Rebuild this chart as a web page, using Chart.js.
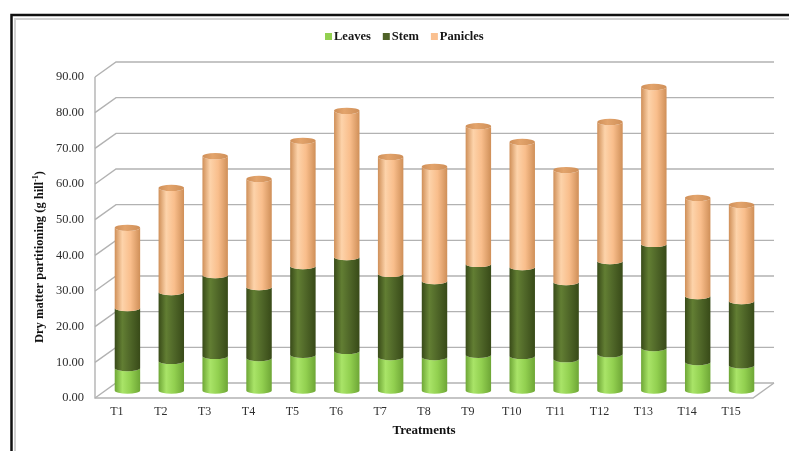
<!DOCTYPE html>
<html>
<head>
<meta charset="utf-8">
<script src="https://cdn.jsdelivr.net/npm/chart.js@4.4.1/dist/chart.umd.min.js"></script>
<style>
  html, body { margin: 0; padding: 0; background: #fff; overflow: hidden; }
  #wrap { position: relative; width: 789px; height: 451px; }
</style>
</head>
<body>
<div id="wrap"><canvas id="c" width="789" height="451"></canvas></div>
<script>
// Dry matter partitioning per treatment (g hill-1)
const treatments = ['T1','T2','T3','T4','T5','T6','T7','T8','T9','T10','T11','T12','T13','T14','T15'];
const leaves   = [6.3, 8.3, 9.7, 9.1, 10.0, 11.1, 9.4, 9.4, 10.0, 9.7, 8.8, 10.2, 11.9, 8.0, 7.1];
const stem     = [16.8, 19.3, 22.7, 19.9, 24.9, 26.3, 23.3, 21.3, 25.5, 24.9, 21.6, 26.1, 29.2, 18.5, 18.0];
const panicles = [22.5, 29.2, 33.3, 30.3, 35.1, 41.0, 32.8, 32.0, 38.6, 35.1, 31.4, 39.0, 44.0, 27.5, 26.9];
const seriesNames = ['Leaves', 'Stem', 'Panicles'];
const yMin = 0, yMax = 90, yStep = 10;

// Cylinder shading palettes (edge / highlight / body / cap)
const palettes = [
  { base: '#92D050', edge: '#6ea636', light: '#a9e468', mid: '#92d050', cap: '#86c448' },
  { base: '#4F6228', edge: '#384a18', light: '#627e33', mid: '#4f6628', cap: '#4a5e24' },
  { base: '#FAC090', edge: '#cf8f58', light: '#fdd3aa', mid: '#f9be8c', cap: '#e3a46c' }
];

// Depth of the 3-D box (back wall offset from the front plane)
const DEPTH_X = 21, DEPTH_Y = -15;
const SERIF = "'Liberation Serif', 'Times New Roman', serif";

function drawSegment(ctx, cx, yTop, yBot, w, pal, cap) {
  const rx = w / 2, ry = 3.2;
  const xl = cx - rx, xr = cx + rx;
  const g = ctx.createLinearGradient(xl, 0, xr, 0);
  g.addColorStop(0, pal.edge);
  g.addColorStop(0.3, pal.light);
  g.addColorStop(0.62, pal.mid);
  g.addColorStop(1, pal.edge);
  ctx.beginPath();
  ctx.moveTo(xl, yTop);
  ctx.ellipse(cx, yTop, rx, ry, 0, Math.PI, 0, true);
  ctx.lineTo(xr, yBot);
  ctx.ellipse(cx, yBot, rx, ry, 0, 0, Math.PI, false);
  ctx.closePath();
  ctx.fillStyle = g;
  ctx.fill();
  if (cap) {
    const cg = ctx.createLinearGradient(xl, 0, xr, 0);
    cg.addColorStop(0, pal.edge);
    cg.addColorStop(0.4, pal.cap);
    cg.addColorStop(1, pal.edge);
    ctx.beginPath();
    ctx.ellipse(cx, yTop, rx, ry, 0, 0, Math.PI * 2);
    ctx.fillStyle = cg;
    ctx.fill();
  }
}

const box3d = {
  id: 'box3d',
  beforeDraw(chart) {
    const ctx = chart.ctx;
    ctx.save();
    ctx.fillStyle = '#fff';
    ctx.fillRect(0, 0, chart.width, chart.height);
    // frame
    ctx.strokeStyle = '#111';
    ctx.lineWidth = 2.5;
    ctx.beginPath();
    ctx.moveTo(11.5, chart.height); ctx.lineTo(11.5, 15); ctx.lineTo(chart.width, 15);
    ctx.stroke();
    ctx.strokeStyle = '#d2d2d2';
    ctx.lineWidth = 2;
    ctx.beginPath();
    ctx.moveTo(15, chart.height); ctx.lineTo(15, 19); ctx.lineTo(chart.width, 19);
    ctx.stroke();
    ctx.restore();
  },
  beforeDatasetsDraw(chart) {
    const ctx = chart.ctx;
    const { left, right, top, bottom } = chart.chartArea;
    const ys = chart.scales.y;
    ctx.save();
    ctx.strokeStyle = '#b2b2b2';
    ctx.lineWidth = 1.4;
    for (let v = yMin; v <= yMax; v += yStep) {
      const py = ys.getPixelForValue(v);
      ctx.beginPath();
      ctx.moveTo(left, py);
      ctx.lineTo(left + DEPTH_X, py + DEPTH_Y);
      ctx.lineTo(right + DEPTH_X, py + DEPTH_Y);
      ctx.stroke();
    }
    ctx.beginPath();
    ctx.moveTo(left, top); ctx.lineTo(left, bottom);
    ctx.lineTo(right, bottom); ctx.lineTo(right + DEPTH_X, bottom + DEPTH_Y);
    ctx.stroke();
    ctx.restore();
  },
  afterDatasetsDraw(chart) {
    const ctx = chart.ctx;
    const metas = chart.data.datasets.map((d, i) => chart.getDatasetMeta(i));
    const last = metas.length - 1;
    ctx.save();
    for (let j = 0; j < treatments.length; j++) {
      for (let i = 0; i < metas.length; i++) {
        const p = metas[i].data[j].getProps(['x', 'y', 'base', 'width'], true);
        drawSegment(ctx, p.x + DEPTH_X / 2, p.y + DEPTH_Y / 2, p.base + DEPTH_Y / 2,
                    p.width, palettes[i], i === last);
      }
    }
    ctx.restore();
  },
  afterDraw(chart) {
    const ctx = chart.ctx;
    ctx.save();
    // legend
    ctx.font = 'bold 12.5px ' + SERIF;
    ctx.textBaseline = 'middle';
    let x = 325;
    seriesNames.forEach((name, i) => {
      ctx.fillStyle = palettes[i].base;
      ctx.fillRect(x, 33, 7, 7);
      ctx.fillStyle = '#161616';
      ctx.textAlign = 'left';
      ctx.fillText(name, x + 9, 36.5);
      x += 9 + ctx.measureText(name).width + 12;
    });
    // y axis title with superscript
    const p1 = 'Dry matter partitioning (g hill', sup = '-1', p3 = ')';
    ctx.translate(38.5, 257);
    ctx.rotate(-Math.PI / 2);
    ctx.font = 'bold 12.5px ' + SERIF;
    const w1 = ctx.measureText(p1).width, w3 = ctx.measureText(p3).width;
    ctx.font = 'bold 8px ' + SERIF;
    const ws = ctx.measureText(sup).width;
    let sx = -(w1 + ws + w3) / 2;
    ctx.fillStyle = '#111';
    ctx.textAlign = 'left';
    ctx.textBaseline = 'alphabetic';
    ctx.font = 'bold 12.5px ' + SERIF;
    ctx.fillText(p1, sx, 4.5);
    ctx.font = 'bold 8px ' + SERIF;
    ctx.fillText(sup, sx + w1, -0.5);
    ctx.font = 'bold 12.5px ' + SERIF;
    ctx.fillText(p3, sx + w1 + ws, 4.5);
    ctx.restore();
  }
};

const transparent = 'rgba(0,0,0,0)';
new Chart(document.getElementById('c'), {
  type: 'bar',
  data: {
    labels: treatments,
    datasets: [
      { label: seriesNames[0], data: leaves, backgroundColor: transparent },
      { label: seriesNames[1], data: stem, backgroundColor: transparent },
      { label: seriesNames[2], data: panicles, backgroundColor: transparent }
    ]
  },
  options: {
    responsive: false,
    devicePixelRatio: 1,
    animation: false,
    events: [],
    barPercentage: 0.58,
    categoryPercentage: 1,
    layout: { padding: { left: 0, right: 36, top: 77, bottom: 13 } },
    plugins: { legend: { display: false }, tooltip: { enabled: false } },
    scales: {
      x: {
        stacked: true,
        grid: { display: false, drawTicks: false },
        border: { display: false },
        ticks: { padding: 7, color: '#2e2e2e', font: { family: SERIF, size: 12 } },
        title: { display: true, text: 'Treatments', color: '#111',
                 font: { family: SERIF, size: 13, weight: 'bold' }, padding: { top: 0, bottom: 0 } },
        afterFit(s) { s.height = 40; }
      },
      y: {
        stacked: true,
        min: yMin, max: yMax,
        grid: { display: false, drawTicks: false },
        border: { display: false },
        ticks: { stepSize: yStep, padding: 11, color: '#2e2e2e',
                 font: { family: SERIF, size: 12.5 },
                 callback: v => Number(v).toFixed(2) },
        afterFit(s) { s.width = 95; }
      }
    }
  },
  plugins: [box3d]
});
</script>
</body>
</html>
